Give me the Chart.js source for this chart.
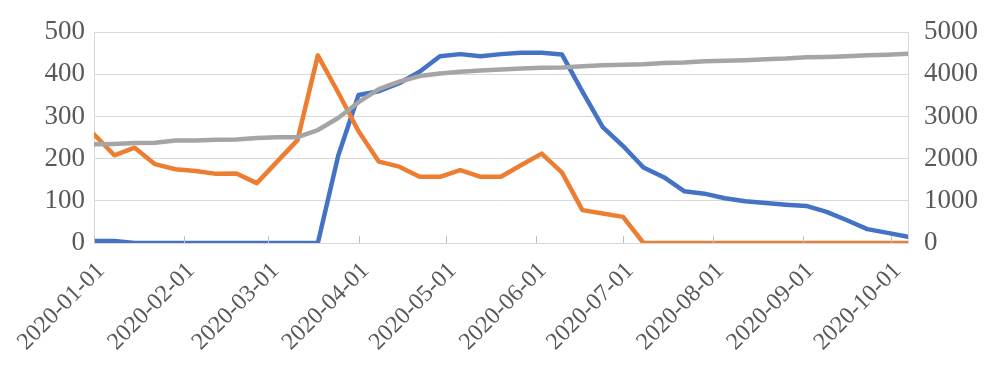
<!DOCTYPE html>
<html>
<head>
<meta charset="utf-8">
<script src="https://cdn.jsdelivr.net/npm/chart.js@4.4.1/dist/chart.umd.min.js"></script>
<style>
  html, body { margin: 0; padding: 0; background: #ffffff; }
  #wrap { width: 1000px; height: 372px; position: relative; }
</style>
</head>
<body>
<div id="wrap"><canvas id="c" width="1000" height="372"></canvas></div>
<script>
// Weekly observation dates (categories)
const weekDates = [
  '2020-01-01','2020-01-08','2020-01-15','2020-01-22','2020-01-29',
  '2020-02-05','2020-02-12','2020-02-19','2020-02-26',
  '2020-03-04','2020-03-11','2020-03-18','2020-03-25',
  '2020-04-01','2020-04-08','2020-04-15','2020-04-22','2020-04-29',
  '2020-05-06','2020-05-13','2020-05-20','2020-05-27',
  '2020-06-03','2020-06-10','2020-06-17','2020-06-24',
  '2020-07-01','2020-07-08','2020-07-15','2020-07-22','2020-07-29',
  '2020-08-05','2020-08-12','2020-08-19','2020-08-26',
  '2020-09-02','2020-09-09','2020-09-16','2020-09-23','2020-09-30',
  '2020-10-07'
];
// Blue series (left axis)
const blueValues = [5,5,0,0,0,0,0,0,0,0,0,0,207,351,360,379,406,443,448,443,448,451,451,447,359,275,230,179,156,123,117,106,99,95,91,88,74,54,33,24,15];
// Orange series (left axis)
const orangeValues = [258,208,226,187,175,171,164,165,142,193,244,445,357,265,193,181,157,157,173,157,157,185,212,167,78,70,62,0,0,0,0,0,0,0,0,0,0,0,0,0,0];
// Gray series (right axis)
const grayValues = [2340,2350,2370,2380,2430,2430,2450,2455,2490,2510,2510,2680,2965,3340,3650,3826,3960,4022,4061,4092,4116,4140,4155,4160,4194,4217,4225,4240,4272,4280,4312,4320,4335,4358,4374,4405,4413,4429,4452,4468,4491];
// X-axis tick labels (month starts)
const monthTicks = ['2020-01-01','2020-02-01','2020-03-01','2020-04-01','2020-05-01','2020-06-01','2020-07-01','2020-08-01','2020-09-01','2020-10-01'];
// Y-axis ticks
const leftTicks = [0,100,200,300,400,500];
const rightTicks = [0,1000,2000,3000,4000,5000];

const DAY = 86400000;
const t0 = Date.parse(weekDates[0]);
const toDay = s => (Date.parse(s) - t0) / DAY;
const xs = weekDates.map(toDay);
const pts = vals => vals.map((v, i) => ({ x: xs[i], y: v }));
const tickDays = monthTicks.map(toDay);

const TXT = '#595959';
const GRID = '#D9D9D9';

const innerTicks = {
  id: 'innerTicks',
  afterDatasetsDraw(chart) {
    const sx = chart.scales.x;
    const ca = chart.chartArea;
    const ctx = chart.ctx;
    ctx.save();
    ctx.strokeStyle = '#BFBFBF';
    ctx.lineWidth = 1;
    tickDays.forEach(d => {
      const px = Math.round(sx.getPixelForValue(d)) + 0.5;
      ctx.beginPath();
      ctx.moveTo(px, ca.bottom);
      ctx.lineTo(px, ca.bottom - 7);
      ctx.stroke();
    });
    ctx.restore();
  }
};

const lineDs = (data, color, axis, order) => ({
  data, borderColor: color, backgroundColor: color, yAxisID: axis, order,
  borderWidth: 4.5, pointRadius: 0, tension: 0, fill: false,
  borderJoinStyle: 'round', borderCapStyle: 'round'
});

new Chart(document.getElementById('c'), {
  type: 'line',
  data: {
    datasets: [
      lineDs(pts(blueValues), '#4472C4', 'y', 2),
      lineDs(pts(orangeValues), '#ED7D31', 'y', 1),
      lineDs(pts(grayValues), '#A5A5A5', 'y2', 0)
    ]
  },
  options: {
    responsive: false,
    animation: false,
    events: [],
    layout: { padding: { top: 29, left: 0, right: 0, bottom: 0 } },
    plugins: { legend: { display: false }, tooltip: { enabled: false } },
    scales: {
      x: {
        type: 'linear',
        min: xs[0],
        max: xs[xs.length - 1],
        afterBuildTicks: s => { s.ticks = tickDays.map(v => ({ value: v })); },
        afterFit: s => { s.height = 129; },
        grid: { display: true, drawOnChartArea: false, drawTicks: false },
        border: { display: true, color: GRID, width: 1 },
        ticks: {
          autoSkip: false, minRotation: 45, maxRotation: 45,
          padding: 14, labelOffset: 7, color: TXT,
          font: { family: 'Liberation Serif', size: 24 },
          callback: (v) => { const i = tickDays.indexOf(v); return i >= 0 ? monthTicks[i] : ''; }
        }
      },
      y: {
        position: 'left',
        min: 0, max: 500,
        afterBuildTicks: s => { s.ticks = leftTicks.map(v => ({ value: v })); },
        afterFit: s => { s.width = 94; },
        grid: { color: GRID, lineWidth: 1, drawTicks: false },
        border: { display: true, color: GRID, width: 1 },
        ticks: { padding: 9, color: TXT, font: { family: 'Liberation Serif', size: 27 },
                 callback: v => String(v) }
      },
      y2: {
        position: 'right',
        min: 0, max: 5000,
        afterBuildTicks: s => { s.ticks = rightTicks.map(v => ({ value: v })); },
        afterFit: s => { s.width = 92; },
        grid: { drawOnChartArea: false, drawTicks: false },
        border: { display: true, color: GRID, width: 1 },
        ticks: { padding: 16, color: TXT, font: { family: 'Liberation Serif', size: 27 },
                 callback: v => String(v) }
      }
    }
  },
  plugins: [innerTicks]
});
</script>
</body>
</html>
